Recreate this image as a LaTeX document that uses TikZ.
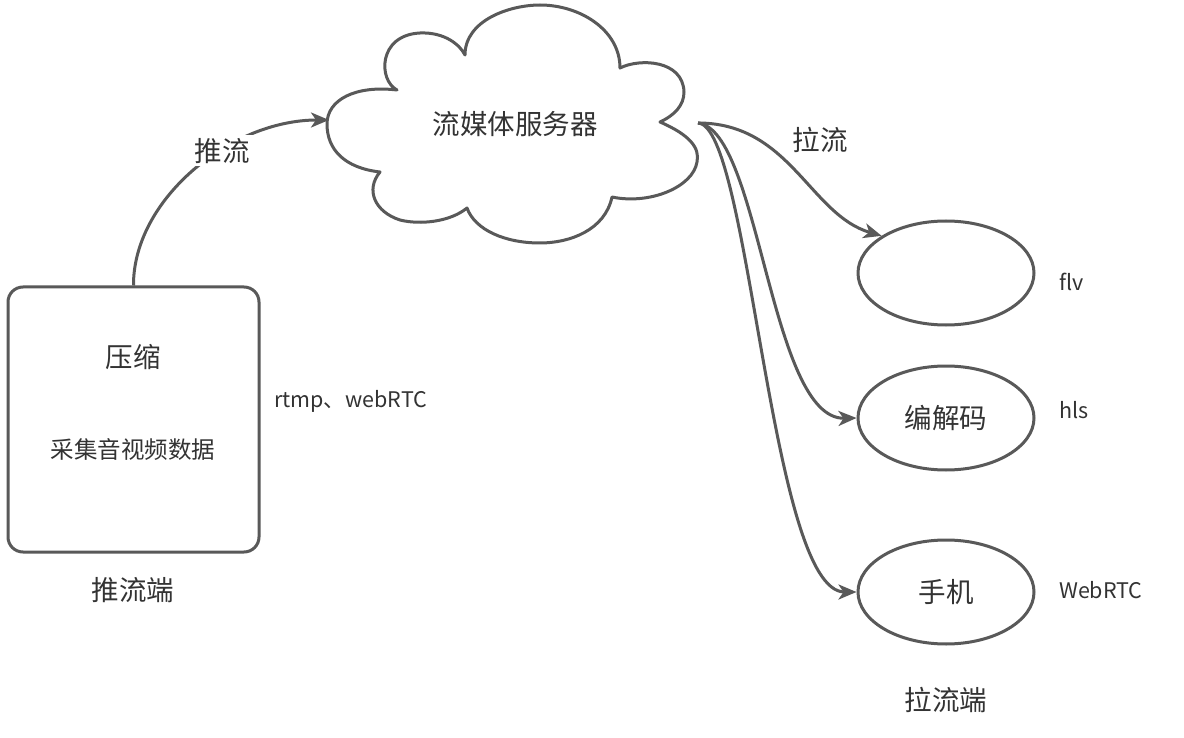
\documentclass[tikz,border=0pt]{standalone}
\usepackage{fontspec}
\setmainfont{Noto Sans CJK SC}
\usetikzlibrary{arrows.meta,shapes.geometric}
\definecolor{linegray}{HTML}{595959}
\definecolor{textgray}{HTML}{333333}
\tikzset{
  conn/.style={draw=linegray,line width=3pt,-{Stealth[length=18pt,width=15pt,inset=5pt]}},
  shapeline/.style={draw=linegray,line width=3pt},
  bigtext/.style={text=textgray,font=\fontsize{27.5}{31}\selectfont,inner sep=0pt},
  midtext/.style={text=textgray,font=\fontsize{23.5}{27}\selectfont,inner sep=0pt},
  smalltext/.style={text=textgray,font=\fontsize{21.5}{25}\selectfont,inner sep=0pt,anchor=west},
  ellnode/.style={shapeline,ellipse,minimum width=176pt,minimum height=104pt,inner sep=0pt,
                  text=textgray,font=\fontsize{27.5}{31}\selectfont}
}
\begin{document}
\begin{tikzpicture}[x=1pt,y=-1pt]
\useasboundingbox (0,0) rectangle (1184,738);
\fill[white] (0,0) rectangle (1184,738);

% push side box
\node[shapeline,rounded corners=15pt,minimum width=251pt,minimum height=265pt,inner sep=0pt] (box) at (133.5,419.5) {};
\node[bigtext] (ys) at (133,357) {压缩};
\node[midtext] (cj) at (133,450) {采集音视频数据};
\node[bigtext] (tld) at (133,590) {推流端};
\node[smalltext] (proto) at (274,401) {rtmp、webRTC};

% cloud
\draw[shapeline,line join=round]
  (397,90) .. controls (378,80) and (378,35) .. (420,33)
  .. controls (445,32) and (460,45) .. (465,55)
  .. controls (465,20) and (510,5) .. (540,5)
  .. controls (580,5) and (620,30) .. (620,68)
  .. controls (640,58) and (683,60) .. (684,92)
  .. controls (684,105) and (675,115) .. (660,122)
  .. controls (690,135) and (700,148) .. (697,162)
  .. controls (693,187) and (650,205) .. (612,197)
  .. controls (605,230) and (570,243) .. (540,243)
  .. controls (505,243) and (475,230) .. (467,208)
  .. controls (450,222) and (420,225) .. (400,220)
  .. controls (375,212) and (365,190) .. (380,172)
  .. controls (345,168) and (327,150) .. (327,124)
  .. controls (327,100) and (355,85) .. (397,90) -- cycle;
\node[bigtext] (srv) at (515,124) {流媒体服务器};
\coordinate (cloudL) at (329,120);
\coordinate (cloudR) at (698,123);

% pull side
\node[ellnode] (e1) at (946,273) {};
\node[ellnode] (e2) at (946,418) {编解码};
\node[ellnode] (e3) at (946,592) {手机};
\node[smalltext] (flv) at (1059,282) {flv};
\node[smalltext] (hls) at (1059,410) {hls};
\node[smalltext] (wrtc) at (1059,590) {WebRTC};
\node[bigtext] (lld) at (946,700) {拉流端};
\node[bigtext] (ll) at (820,140) {拉流};

% connectors
\draw[conn] (box.north) .. controls (133,200) and (230,120) .. (cloudL)
  node[pos=0.62,bigtext,fill=white,inner sep=3pt] (tl) {推流};
\draw[conn] (cloudR) .. controls (790,123) and (810,215) .. (e1.150);
\draw[conn] (cloudR) .. controls (760,130) and (770,420) .. (e2.west);
\draw[conn] (cloudR) .. controls (750,125) and (770,592) .. (e3.west);
\end{tikzpicture}
\end{document}
